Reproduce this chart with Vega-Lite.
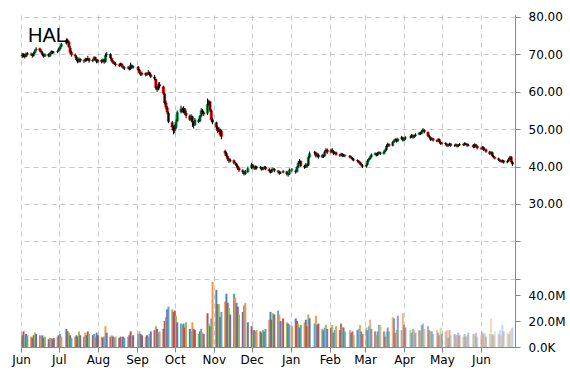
{
"$schema": "https://vega.github.io/schema/vega-lite/v6.json",
"width": 494, "height": 332,
"autosize": {"type": "none"},
"padding": {"left": 21, "top": 15, "right": 55, "bottom": 23},
"background": "white",
"config": {"view": {"stroke": null}, "axis": {"labelFont": "DejaVu Sans", "labelFontSize": 12, "labelColor": "#000", "domainColor": "#888", "tickColor": "#888", "tickSize": 5, "title": null}},
"title": {"text": "HAL", "anchor": "start", "frame": "group", "font": "Liberation Sans", "fontSize": 20, "fontWeight": "normal", "color": "#000", "offset": -26, "dx": 7, "dy": 25, "baseline": "alphabetic"},
"data": {"values": [
{"d":"2014-06-02","o":69.9,"h":70.4,"l":69.0,"c":69.5,"v":9},
{"d":"2014-06-03","o":69.4,"h":70.3,"l":69.2,"c":70.0,"v":12},
{"d":"2014-06-04","o":70.0,"h":70.2,"l":68.9,"c":69.3,"v":8},
{"d":"2014-06-05","o":69.4,"h":70.5,"l":69.2,"c":70.2,"v":10},
{"d":"2014-06-06","o":70.3,"h":70.6,"l":69.7,"c":70.0,"v":9},
{"d":"2014-06-09","o":70.1,"h":70.5,"l":69.6,"c":70.0,"v":8},
{"d":"2014-06-10","o":70.0,"h":70.2,"l":69.1,"c":69.6,"v":7},
{"d":"2014-06-11","o":69.6,"h":70.6,"l":69.4,"c":70.4,"v":9},
{"d":"2014-06-12","o":70.4,"h":71.3,"l":70.1,"c":71.0,"v":11},
{"d":"2014-06-13","o":71.1,"h":71.9,"l":70.8,"c":71.5,"v":10},
{"d":"2014-06-16","o":71.6,"h":71.8,"l":70.7,"c":71.0,"v":9},
{"d":"2014-06-17","o":71.0,"h":71.3,"l":70.2,"c":70.5,"v":8},
{"d":"2014-06-18","o":70.5,"h":70.8,"l":69.5,"c":69.8,"v":9},
{"d":"2014-06-19","o":69.7,"h":70.1,"l":69.1,"c":69.5,"v":7},
{"d":"2014-06-20","o":69.5,"h":70.3,"l":69.3,"c":70.0,"v":8},
{"d":"2014-06-23","o":70.1,"h":70.3,"l":69.2,"c":69.5,"v":6},
{"d":"2014-06-24","o":69.5,"h":70.6,"l":69.3,"c":70.3,"v":7},
{"d":"2014-06-25","o":70.2,"h":71.1,"l":70.0,"c":70.8,"v":7},
{"d":"2014-06-26","o":70.8,"h":71.0,"l":70.1,"c":70.5,"v":6},
{"d":"2014-06-27","o":70.5,"h":70.9,"l":70.2,"c":70.6,"v":7},
{"d":"2014-06-30","o":70.6,"h":71.1,"l":70.3,"c":70.8,"v":8},
{"d":"2014-07-01","o":70.9,"h":71.8,"l":70.7,"c":71.5,"v":9},
{"d":"2014-07-02","o":71.4,"h":72.3,"l":71.2,"c":72.0,"v":10},
{"d":"2014-07-03","o":72.1,"h":73.1,"l":71.9,"c":72.8,"v":8},
{"d":"2014-07-07","o":72.9,"h":74.3,"l":72.6,"c":73.8,"v":14},
{"d":"2014-07-08","o":73.9,"h":74.2,"l":73.0,"c":73.5,"v":12},
{"d":"2014-07-09","o":73.4,"h":73.6,"l":71.7,"c":72.0,"v":11},
{"d":"2014-07-10","o":71.8,"h":72.2,"l":70.1,"c":70.5,"v":9},
{"d":"2014-07-11","o":70.6,"h":71.0,"l":69.4,"c":69.8,"v":7},
{"d":"2014-07-14","o":69.9,"h":70.2,"l":69.1,"c":69.5,"v":8},
{"d":"2014-07-15","o":69.4,"h":69.7,"l":68.2,"c":68.5,"v":9},
{"d":"2014-07-16","o":68.6,"h":68.9,"l":67.6,"c":68.0,"v":8},
{"d":"2014-07-17","o":68.0,"h":69.2,"l":67.8,"c":68.8,"v":12},
{"d":"2014-07-18","o":68.8,"h":69.0,"l":67.9,"c":68.3,"v":9},
{"d":"2014-07-21","o":68.4,"h":68.6,"l":67.7,"c":68.2,"v":8},
{"d":"2014-07-22","o":68.2,"h":69.1,"l":68.0,"c":68.8,"v":11},
{"d":"2014-07-23","o":68.8,"h":69.0,"l":68.1,"c":68.5,"v":9},
{"d":"2014-07-24","o":68.5,"h":69.6,"l":68.3,"c":69.0,"v":12},
{"d":"2014-07-25","o":68.9,"h":69.1,"l":67.8,"c":68.2,"v":10},
{"d":"2014-07-28","o":68.2,"h":68.8,"l":67.9,"c":68.5,"v":9},
{"d":"2014-07-29","o":68.5,"h":69.5,"l":68.3,"c":69.2,"v":10},
{"d":"2014-07-30","o":69.2,"h":69.4,"l":68.3,"c":68.6,"v":8},
{"d":"2014-07-31","o":68.5,"h":68.8,"l":67.6,"c":68.0,"v":11},
{"d":"2014-08-01","o":68.0,"h":68.8,"l":67.7,"c":68.5,"v":9},
{"d":"2014-08-04","o":68.5,"h":68.7,"l":67.6,"c":68.0,"v":8},
{"d":"2014-08-05","o":68.0,"h":68.9,"l":67.8,"c":68.6,"v":7},
{"d":"2014-08-06","o":68.6,"h":68.8,"l":67.5,"c":67.9,"v":8},
{"d":"2014-08-07","o":68.0,"h":70.3,"l":67.8,"c":69.8,"v":16},
{"d":"2014-08-08","o":69.8,"h":70.6,"l":69.3,"c":70.0,"v":11},
{"d":"2014-08-11","o":70.1,"h":70.3,"l":68.7,"c":69.0,"v":8},
{"d":"2014-08-12","o":69.0,"h":69.2,"l":67.9,"c":68.2,"v":9},
{"d":"2014-08-13","o":68.2,"h":68.5,"l":67.4,"c":67.8,"v":8},
{"d":"2014-08-14","o":67.8,"h":68.1,"l":67.2,"c":67.5,"v":7},
{"d":"2014-08-15","o":67.5,"h":67.9,"l":66.8,"c":67.2,"v":8},
{"d":"2014-08-18","o":67.3,"h":67.6,"l":66.6,"c":67.0,"v":7},
{"d":"2014-08-19","o":67.0,"h":67.8,"l":66.8,"c":67.5,"v":8},
{"d":"2014-08-20","o":67.5,"h":67.7,"l":66.5,"c":66.8,"v":7},
{"d":"2014-08-21","o":66.8,"h":67.1,"l":66.1,"c":66.5,"v":8},
{"d":"2014-08-22","o":66.5,"h":66.8,"l":65.8,"c":66.2,"v":7},
{"d":"2014-08-25","o":66.3,"h":66.9,"l":66.0,"c":66.5,"v":8},
{"d":"2014-08-26","o":66.5,"h":66.7,"l":65.7,"c":66.0,"v":9},
{"d":"2014-08-27","o":66.0,"h":67.8,"l":65.9,"c":67.2,"v":12},
{"d":"2014-08-28","o":67.1,"h":67.3,"l":66.2,"c":66.5,"v":8},
{"d":"2014-08-29","o":66.5,"h":67.0,"l":66.2,"c":66.8,"v":9},
{"d":"2014-09-02","o":66.7,"h":66.9,"l":65.5,"c":65.8,"v":10},
{"d":"2014-09-03","o":65.9,"h":66.1,"l":64.7,"c":65.0,"v":12},
{"d":"2014-09-04","o":65.0,"h":65.3,"l":64.2,"c":64.6,"v":10},
{"d":"2014-09-05","o":64.6,"h":65.4,"l":64.3,"c":65.0,"v":9},
{"d":"2014-09-08","o":65.0,"h":65.2,"l":64.1,"c":64.5,"v":8},
{"d":"2014-09-09","o":64.5,"h":65.2,"l":64.2,"c":64.8,"v":9},
{"d":"2014-09-10","o":64.8,"h":65.8,"l":64.6,"c":65.2,"v":8},
{"d":"2014-09-11","o":65.2,"h":65.4,"l":64.2,"c":64.6,"v":10},
{"d":"2014-09-12","o":64.6,"h":64.9,"l":63.7,"c":64.0,"v":12},
{"d":"2014-09-15","o":64.0,"h":64.5,"l":63.1,"c":63.5,"v":13},
{"d":"2014-09-16","o":63.4,"h":63.6,"l":60.6,"c":61.0,"v":16},
{"d":"2014-09-17","o":61.1,"h":61.6,"l":60.0,"c":60.5,"v":14},
{"d":"2014-09-18","o":60.6,"h":62.5,"l":60.4,"c":62.0,"v":11},
{"d":"2014-09-19","o":62.0,"h":62.6,"l":61.0,"c":61.5,"v":12},
{"d":"2014-09-22","o":61.4,"h":61.6,"l":59.2,"c":59.5,"v":14},
{"d":"2014-09-23","o":59.5,"h":59.8,"l":56.6,"c":57.0,"v":20},
{"d":"2014-09-24","o":57.1,"h":57.6,"l":55.3,"c":55.8,"v":23},
{"d":"2014-09-25","o":55.8,"h":56.2,"l":54.0,"c":54.5,"v":29},
{"d":"2014-09-26","o":54.4,"h":54.7,"l":51.6,"c":52.0,"v":31},
{"d":"2014-09-29","o":51.8,"h":52.2,"l":49.8,"c":50.5,"v":29},
{"d":"2014-09-30","o":50.4,"h":51.0,"l":48.6,"c":49.6,"v":27},
{"d":"2014-10-01","o":49.5,"h":51.2,"l":48.9,"c":50.5,"v":28},
{"d":"2014-10-02","o":50.4,"h":52.6,"l":50.0,"c":52.0,"v":24},
{"d":"2014-10-03","o":52.1,"h":55.0,"l":51.9,"c":54.5,"v":19},
{"d":"2014-10-06","o":54.6,"h":56.3,"l":54.2,"c":55.5,"v":18},
{"d":"2014-10-07","o":55.4,"h":55.8,"l":54.4,"c":54.8,"v":17},
{"d":"2014-10-08","o":54.7,"h":56.1,"l":54.2,"c":55.6,"v":18},
{"d":"2014-10-09","o":55.5,"h":55.7,"l":53.8,"c":54.3,"v":15},
{"d":"2014-10-10","o":54.3,"h":54.9,"l":52.9,"c":53.6,"v":19},
{"d":"2014-10-13","o":53.6,"h":53.9,"l":52.2,"c":52.5,"v":14},
{"d":"2014-10-14","o":52.6,"h":54.0,"l":52.1,"c":53.5,"v":12},
{"d":"2014-10-15","o":53.4,"h":53.6,"l":50.6,"c":51.8,"v":19},
{"d":"2014-10-16","o":51.7,"h":52.2,"l":50.2,"c":51.0,"v":14},
{"d":"2014-10-17","o":51.1,"h":53.0,"l":50.9,"c":52.5,"v":13},
{"d":"2014-10-20","o":52.4,"h":52.8,"l":51.6,"c":52.0,"v":10},
{"d":"2014-10-21","o":52.1,"h":53.8,"l":51.9,"c":53.5,"v":12},
{"d":"2014-10-22","o":53.5,"h":55.6,"l":53.2,"c":55.0,"v":14},
{"d":"2014-10-23","o":55.0,"h":55.4,"l":54.0,"c":54.5,"v":11},
{"d":"2014-10-24","o":54.5,"h":54.9,"l":53.5,"c":54.0,"v":10},
{"d":"2014-10-27","o":54.2,"h":58.2,"l":53.8,"c":56.8,"v":26},
{"d":"2014-10-28","o":56.8,"h":57.9,"l":56.3,"c":57.5,"v":18},
{"d":"2014-10-29","o":57.4,"h":57.6,"l":54.6,"c":55.0,"v":16},
{"d":"2014-10-30","o":55.0,"h":55.3,"l":52.0,"c":52.5,"v":22},
{"d":"2014-10-31","o":52.6,"h":53.0,"l":51.3,"c":51.8,"v":50},
{"d":"2014-11-03","o":51.8,"h":52.0,"l":50.0,"c":50.5,"v":44},
{"d":"2014-11-04","o":50.4,"h":50.8,"l":49.0,"c":49.5,"v":33},
{"d":"2014-11-05","o":49.6,"h":50.6,"l":49.2,"c":50.0,"v":33},
{"d":"2014-11-06","o":50.0,"h":50.2,"l":48.1,"c":48.5,"v":23},
{"d":"2014-11-07","o":49.6,"h":49.8,"l":47.3,"c":48.0,"v":27},
{"d":"2014-11-10","o":44.2,"h":44.5,"l":42.9,"c":43.5,"v":35},
{"d":"2014-11-11","o":43.6,"h":43.9,"l":42.4,"c":42.8,"v":41},
{"d":"2014-11-12","o":42.8,"h":43.0,"l":41.6,"c":42.0,"v":34},
{"d":"2014-11-13","o":42.0,"h":42.3,"l":41.0,"c":41.5,"v":30},
{"d":"2014-11-14","o":41.4,"h":42.2,"l":41.1,"c":41.8,"v":25},
{"d":"2014-11-17","o":41.7,"h":41.9,"l":40.6,"c":41.0,"v":41},
{"d":"2014-11-18","o":41.0,"h":41.3,"l":40.4,"c":40.8,"v":38},
{"d":"2014-11-19","o":40.8,"h":41.0,"l":39.8,"c":40.2,"v":34},
{"d":"2014-11-20","o":40.2,"h":40.5,"l":39.1,"c":39.5,"v":31},
{"d":"2014-11-21","o":39.6,"h":39.9,"l":38.6,"c":39.0,"v":25},
{"d":"2014-11-24","o":39.0,"h":39.3,"l":38.1,"c":38.5,"v":27},
{"d":"2014-11-25","o":38.5,"h":38.8,"l":37.6,"c":38.0,"v":32},
{"d":"2014-11-26","o":38.0,"h":39.1,"l":37.8,"c":38.8,"v":34},
{"d":"2014-11-28","o":38.6,"h":40.0,"l":38.3,"c":39.5,"v":19},
{"d":"2014-12-01","o":39.6,"h":41.0,"l":39.3,"c":40.5,"v":16},
{"d":"2014-12-02","o":40.5,"h":40.7,"l":39.5,"c":39.8,"v":9},
{"d":"2014-12-03","o":39.8,"h":40.1,"l":39.1,"c":39.5,"v":13},
{"d":"2014-12-04","o":39.5,"h":40.3,"l":39.2,"c":40.0,"v":12},
{"d":"2014-12-05","o":40.0,"h":40.2,"l":39.2,"c":39.6,"v":13},
{"d":"2014-12-08","o":39.6,"h":40.1,"l":39.3,"c":39.8,"v":12},
{"d":"2014-12-09","o":39.8,"h":40.0,"l":38.9,"c":39.2,"v":11},
{"d":"2014-12-10","o":39.2,"h":39.9,"l":39.0,"c":39.6,"v":13},
{"d":"2014-12-11","o":39.6,"h":40.2,"l":39.3,"c":39.9,"v":12},
{"d":"2014-12-12","o":39.9,"h":40.1,"l":39.0,"c":39.3,"v":14},
{"d":"2014-12-15","o":39.3,"h":39.6,"l":38.4,"c":38.8,"v":21},
{"d":"2014-12-16","o":38.8,"h":39.1,"l":38.1,"c":38.5,"v":27},
{"d":"2014-12-17","o":38.5,"h":39.5,"l":38.3,"c":39.2,"v":21},
{"d":"2014-12-18","o":39.2,"h":39.8,"l":39.0,"c":39.4,"v":26},
{"d":"2014-12-19","o":39.4,"h":39.6,"l":38.5,"c":38.9,"v":25},
{"d":"2014-12-22","o":38.9,"h":39.1,"l":38.2,"c":38.6,"v":28},
{"d":"2014-12-23","o":38.6,"h":38.9,"l":37.8,"c":38.2,"v":25},
{"d":"2014-12-24","o":38.2,"h":38.7,"l":38.0,"c":38.4,"v":20},
{"d":"2014-12-26","o":38.4,"h":39.1,"l":38.2,"c":38.8,"v":22},
{"d":"2014-12-29","o":38.7,"h":38.9,"l":37.6,"c":38.0,"v":19},
{"d":"2014-12-30","o":38.0,"h":38.3,"l":37.3,"c":37.8,"v":18},
{"d":"2014-12-31","o":37.9,"h":39.5,"l":37.7,"c":39.2,"v":17},
{"d":"2015-01-02","o":39.2,"h":39.6,"l":38.6,"c":39.0,"v":16},
{"d":"2015-01-05","o":38.9,"h":39.2,"l":38.1,"c":38.6,"v":22},
{"d":"2015-01-06","o":38.6,"h":40.2,"l":38.4,"c":39.8,"v":20},
{"d":"2015-01-07","o":39.8,"h":41.4,"l":39.6,"c":41.0,"v":18},
{"d":"2015-01-08","o":41.0,"h":42.0,"l":40.8,"c":41.5,"v":15},
{"d":"2015-01-09","o":41.5,"h":41.7,"l":39.8,"c":40.2,"v":17},
{"d":"2015-01-12","o":40.2,"h":40.5,"l":39.4,"c":39.8,"v":19},
{"d":"2015-01-13","o":39.8,"h":40.9,"l":39.6,"c":40.5,"v":21},
{"d":"2015-01-14","o":40.5,"h":40.8,"l":39.7,"c":40.2,"v":16},
{"d":"2015-01-15","o":40.3,"h":42.9,"l":40.1,"c":42.5,"v":25},
{"d":"2015-01-16","o":42.5,"h":44.0,"l":42.2,"c":43.5,"v":22},
{"d":"2015-01-20","o":43.6,"h":44.2,"l":43.2,"c":43.8,"v":18},
{"d":"2015-01-21","o":43.8,"h":44.0,"l":42.4,"c":42.8,"v":24},
{"d":"2015-01-22","o":42.8,"h":43.6,"l":42.5,"c":43.2,"v":17},
{"d":"2015-01-23","o":43.2,"h":43.5,"l":42.1,"c":42.5,"v":18},
{"d":"2015-01-26","o":42.5,"h":43.4,"l":42.3,"c":43.0,"v":14},
{"d":"2015-01-27","o":43.0,"h":43.2,"l":42.3,"c":42.8,"v":13},
{"d":"2015-01-28","o":42.8,"h":44.3,"l":42.6,"c":44.0,"v":15},
{"d":"2015-01-29","o":44.0,"h":44.9,"l":43.7,"c":44.5,"v":17},
{"d":"2015-01-30","o":44.5,"h":44.8,"l":43.4,"c":43.8,"v":14},
{"d":"2015-02-02","o":43.8,"h":44.8,"l":43.5,"c":44.5,"v":15},
{"d":"2015-02-03","o":44.5,"h":44.9,"l":43.7,"c":44.0,"v":17},
{"d":"2015-02-04","o":44.0,"h":44.3,"l":43.1,"c":43.5,"v":11},
{"d":"2015-02-05","o":43.5,"h":44.1,"l":43.3,"c":43.8,"v":13},
{"d":"2015-02-06","o":43.8,"h":44.0,"l":42.9,"c":43.2,"v":16},
{"d":"2015-02-09","o":43.2,"h":43.4,"l":42.6,"c":43.0,"v":13},
{"d":"2015-02-10","o":43.0,"h":43.7,"l":42.8,"c":43.4,"v":18},
{"d":"2015-02-11","o":43.4,"h":43.6,"l":42.5,"c":42.8,"v":15},
{"d":"2015-02-12","o":42.8,"h":43.4,"l":42.6,"c":43.1,"v":15},
{"d":"2015-02-13","o":43.1,"h":43.3,"l":42.5,"c":42.9,"v":12},
{"d":"2015-02-17","o":42.9,"h":43.1,"l":42.2,"c":42.5,"v":13},
{"d":"2015-02-18","o":42.5,"h":42.8,"l":42.0,"c":42.3,"v":11},
{"d":"2015-02-19","o":42.3,"h":42.5,"l":41.6,"c":41.9,"v":12},
{"d":"2015-02-20","o":41.9,"h":42.2,"l":41.4,"c":41.7,"v":9},
{"d":"2015-02-23","o":41.7,"h":41.9,"l":41.1,"c":41.5,"v":13},
{"d":"2015-02-24","o":41.5,"h":41.8,"l":40.9,"c":41.2,"v":14},
{"d":"2015-02-25","o":41.2,"h":41.4,"l":40.4,"c":40.7,"v":17},
{"d":"2015-02-26","o":40.7,"h":41.0,"l":40.0,"c":40.3,"v":12},
{"d":"2015-02-27","o":40.3,"h":40.6,"l":39.6,"c":40.0,"v":10},
{"d":"2015-03-02","o":40.0,"h":40.8,"l":39.7,"c":40.5,"v":15},
{"d":"2015-03-03","o":40.5,"h":41.9,"l":40.3,"c":41.6,"v":13},
{"d":"2015-03-04","o":41.6,"h":42.3,"l":41.3,"c":42.0,"v":16},
{"d":"2015-03-05","o":42.0,"h":42.9,"l":41.8,"c":42.6,"v":21},
{"d":"2015-03-06","o":42.6,"h":43.5,"l":42.4,"c":43.2,"v":14},
{"d":"2015-03-09","o":43.2,"h":43.8,"l":43.0,"c":43.5,"v":12},
{"d":"2015-03-10","o":43.5,"h":43.7,"l":42.7,"c":43.0,"v":9},
{"d":"2015-03-11","o":43.0,"h":43.9,"l":42.8,"c":43.6,"v":12},
{"d":"2015-03-12","o":43.6,"h":44.1,"l":43.3,"c":43.8,"v":17},
{"d":"2015-03-13","o":43.8,"h":44.0,"l":43.1,"c":43.4,"v":17},
{"d":"2015-03-16","o":43.4,"h":44.3,"l":43.2,"c":44.0,"v":12},
{"d":"2015-03-17","o":44.0,"h":44.8,"l":43.8,"c":44.5,"v":8},
{"d":"2015-03-18","o":44.5,"h":45.9,"l":44.3,"c":45.5,"v":12},
{"d":"2015-03-19","o":45.5,"h":46.4,"l":45.2,"c":46.0,"v":15},
{"d":"2015-03-20","o":46.0,"h":46.2,"l":45.2,"c":45.6,"v":12},
{"d":"2015-03-23","o":45.6,"h":46.8,"l":45.4,"c":46.5,"v":23},
{"d":"2015-03-24","o":46.5,"h":47.3,"l":46.3,"c":47.0,"v":22},
{"d":"2015-03-25","o":47.0,"h":47.6,"l":46.7,"c":47.3,"v":11},
{"d":"2015-03-26","o":47.3,"h":47.5,"l":46.4,"c":46.8,"v":13},
{"d":"2015-03-27","o":46.8,"h":47.7,"l":46.6,"c":47.4,"v":24},
{"d":"2015-03-30","o":47.4,"h":48.2,"l":47.2,"c":47.8,"v":13},
{"d":"2015-03-31","o":47.8,"h":48.0,"l":46.7,"c":47.0,"v":26},
{"d":"2015-04-01","o":47.0,"h":47.8,"l":46.8,"c":47.5,"v":17},
{"d":"2015-04-02","o":47.5,"h":48.1,"l":47.2,"c":47.8,"v":15},
{"d":"2015-04-06","o":47.8,"h":48.3,"l":47.5,"c":48.0,"v":13},
{"d":"2015-04-07","o":48.0,"h":48.7,"l":47.7,"c":48.4,"v":11},
{"d":"2015-04-08","o":48.4,"h":48.6,"l":47.5,"c":47.8,"v":14},
{"d":"2015-04-09","o":47.8,"h":48.5,"l":47.6,"c":48.2,"v":13},
{"d":"2015-04-10","o":48.2,"h":48.9,"l":48.0,"c":48.6,"v":11},
{"d":"2015-04-13","o":48.6,"h":49.3,"l":48.4,"c":49.0,"v":13},
{"d":"2015-04-14","o":49.0,"h":49.2,"l":48.4,"c":48.8,"v":12},
{"d":"2015-04-15","o":48.8,"h":49.8,"l":48.6,"c":49.5,"v":17},
{"d":"2015-04-16","o":49.5,"h":50.3,"l":49.3,"c":49.8,"v":18},
{"d":"2015-04-17","o":49.8,"h":50.0,"l":48.9,"c":49.2,"v":14},
{"d":"2015-04-20","o":49.2,"h":49.4,"l":47.9,"c":48.2,"v":16},
{"d":"2015-04-21","o":48.2,"h":48.5,"l":47.5,"c":47.8,"v":13},
{"d":"2015-04-22","o":47.8,"h":48.0,"l":46.9,"c":47.2,"v":12},
{"d":"2015-04-23","o":47.2,"h":47.8,"l":47.0,"c":47.5,"v":12},
{"d":"2015-04-24","o":47.5,"h":47.7,"l":46.7,"c":47.0,"v":10},
{"d":"2015-04-27","o":47.0,"h":47.2,"l":46.5,"c":46.8,"v":13},
{"d":"2015-04-28","o":46.8,"h":47.6,"l":46.6,"c":47.3,"v":11},
{"d":"2015-04-29","o":47.3,"h":47.5,"l":46.2,"c":46.5,"v":9},
{"d":"2015-04-30","o":46.5,"h":46.8,"l":45.8,"c":46.1,"v":15},
{"d":"2015-05-01","o":46.1,"h":46.6,"l":45.9,"c":46.3,"v":10},
{"d":"2015-05-04","o":46.3,"h":46.5,"l":45.7,"c":46.0,"v":12},
{"d":"2015-05-05","o":46.0,"h":46.2,"l":45.2,"c":45.5,"v":13},
{"d":"2015-05-06","o":45.5,"h":46.1,"l":45.3,"c":45.8,"v":7},
{"d":"2015-05-07","o":45.8,"h":46.4,"l":45.6,"c":46.1,"v":13},
{"d":"2015-05-08","o":46.1,"h":46.3,"l":45.3,"c":45.6,"v":9},
{"d":"2015-05-11","o":45.6,"h":45.9,"l":45.3,"c":45.6,"v":10},
{"d":"2015-05-12","o":45.6,"h":46.2,"l":45.4,"c":45.9,"v":9},
{"d":"2015-05-13","o":45.9,"h":46.1,"l":45.1,"c":45.4,"v":9},
{"d":"2015-05-14","o":45.4,"h":46.0,"l":45.2,"c":45.7,"v":11},
{"d":"2015-05-15","o":45.7,"h":46.3,"l":45.5,"c":46.0,"v":9},
{"d":"2015-05-18","o":46.0,"h":46.2,"l":45.5,"c":45.8,"v":8},
{"d":"2015-05-19","o":45.8,"h":46.5,"l":45.6,"c":46.2,"v":10},
{"d":"2015-05-20","o":46.2,"h":46.4,"l":45.7,"c":46.0,"v":8},
{"d":"2015-05-21","o":46.0,"h":46.2,"l":45.3,"c":45.6,"v":9},
{"d":"2015-05-22","o":45.6,"h":46.1,"l":45.4,"c":45.8,"v":11},
{"d":"2015-05-26","o":45.8,"h":46.0,"l":44.9,"c":45.2,"v":10},
{"d":"2015-05-27","o":45.2,"h":46.2,"l":45.0,"c":45.9,"v":9},
{"d":"2015-05-28","o":45.9,"h":46.1,"l":45.2,"c":45.5,"v":11},
{"d":"2015-05-29","o":45.5,"h":45.7,"l":44.6,"c":44.9,"v":8},
{"d":"2015-06-01","o":44.9,"h":45.1,"l":44.5,"c":44.8,"v":9},
{"d":"2015-06-02","o":44.8,"h":45.5,"l":44.6,"c":45.2,"v":12},
{"d":"2015-06-03","o":45.2,"h":45.4,"l":44.2,"c":44.5,"v":10},
{"d":"2015-06-04","o":44.5,"h":44.9,"l":44.3,"c":44.6,"v":11},
{"d":"2015-06-05","o":44.6,"h":44.8,"l":43.7,"c":44.0,"v":8},
{"d":"2015-06-08","o":44.0,"h":44.2,"l":43.1,"c":43.4,"v":10},
{"d":"2015-06-09","o":43.4,"h":44.1,"l":43.2,"c":43.8,"v":22},
{"d":"2015-06-10","o":43.8,"h":44.0,"l":42.5,"c":42.8,"v":10},
{"d":"2015-06-11","o":42.8,"h":43.1,"l":42.2,"c":42.5,"v":9},
{"d":"2015-06-12","o":42.5,"h":42.7,"l":41.9,"c":42.2,"v":12},
{"d":"2015-06-15","o":42.2,"h":42.4,"l":41.5,"c":41.8,"v":10},
{"d":"2015-06-16","o":41.8,"h":42.0,"l":41.2,"c":41.5,"v":13},
{"d":"2015-06-17","o":41.5,"h":41.8,"l":41.0,"c":41.3,"v":9},
{"d":"2015-06-18","o":41.3,"h":41.9,"l":41.1,"c":41.6,"v":17},
{"d":"2015-06-19","o":41.6,"h":41.8,"l":40.8,"c":41.1,"v":12},
{"d":"2015-06-22","o":41.1,"h":41.8,"l":40.9,"c":41.5,"v":11},
{"d":"2015-06-23","o":41.5,"h":42.3,"l":41.3,"c":42.0,"v":10},
{"d":"2015-06-24","o":42.0,"h":42.9,"l":41.8,"c":42.6,"v":12},
{"d":"2015-06-25","o":42.6,"h":42.8,"l":40.9,"c":41.2,"v":14},
{"d":"2015-06-26","o":41.2,"h":41.5,"l":40.2,"c":40.6,"v":15}
]},
"encoding": {
  "x": {"field": "d", "type": "temporal",
        "scale": {"type": "utc", "nice": false, "padding": 0, "domain": ["2014-06-01T00:00:00Z", "2015-06-28T00:00:00Z"]},
        "axis": {"labelExpr": "utcFormat(datum.value, '%b')",
                 "values": [{"year": 2014, "month": 6, "date": 1, "utc": true}, {"year": 2014, "month": 7, "date": 1, "utc": true}, {"year": 2014, "month": 8, "date": 1, "utc": true}, {"year": 2014, "month": 9, "date": 1, "utc": true}, {"year": 2014, "month": 10, "date": 1, "utc": true}, {"year": 2014, "month": 11, "date": 1, "utc": true}, {"year": 2014, "month": 12, "date": 1, "utc": true}, {"year": 2015, "month": 1, "date": 1, "utc": true}, {"year": 2015, "month": 2, "date": 1, "utc": true}, {"year": 2015, "month": 3, "date": 1, "utc": true}, {"year": 2015, "month": 4, "date": 1, "utc": true}, {"year": 2015, "month": 5, "date": 1, "utc": true}, {"year": 2015, "month": 6, "date": 1, "utc": true}],
                 "labelOverlap": false, "grid": true, "gridDash": [5, 4], "gridColor": "#c8c8c8", "labelAngle": 0, "labelPadding": 2, "labelFlush": false}}
},
"layer": [
  {"mark": {"type": "bar", "size": 2},
   "encoding": {
     "y": {"field": "v", "type": "quantitative", "scale": {"domain": [0, 255.4], "nice": false, "zero": true},
           "axis": {"orient": "right", "values": [0, 20, 40], "labelExpr": "datum.value == 0 ? '0.0K' : format(datum.value, '.1f') + 'M'", "grid": false, "labelPadding": 8}},
     "color": {"field": "d", "type": "ordinal", "scale": {"range": ["#4F81BD", "#C0504D", "#9BBB59", "#8064A2", "#4BACC6", "#F79646"]}, "legend": null},
     "opacity": {"field": "d", "type": "temporal", "scale": {"type": "utc", "domain": [{"year": 2015, "month": 1, "date": 20, "utc": true}, {"year": 2015, "month": 6, "date": 26, "utc": true}], "range": [1, 0.3], "clamp": true}, "legend": null}
   }},
  {"layer": [
     {"mark": {"type": "bar", "size": 3},
      "encoding": {"y": {"field": "o", "type": "quantitative"}, "y2": {"field": "c"},
                   "color": {"condition": {"test": "datum.c >= datum.o", "value": "#00a651"}, "value": "#ff0000"}}},
     {"mark": {"type": "rule", "color": "#000", "strokeWidth": 1},
      "encoding": {"y": {"field": "l", "type": "quantitative"}, "y2": {"field": "h"}}}
   ],
   "encoding": {
     "y": {"field": "l", "type": "quantitative", "scale": {"domain": [-8.24, 80.53], "nice": false, "zero": false},
           "axis": {"orient": "right", "values": [10, 20, 30, 40, 50, 60, 70, 80], "labelExpr": "datum.value >= 30 ? format(datum.value, '.2f') : ''", "grid": true, "gridDash": [5, 4], "gridColor": "#c8c8c8", "labelPadding": 8}}
   }}
],
"resolve": {"scale": {"y": "independent", "color": "independent"}, "axis": {"y": "independent"}}
}
